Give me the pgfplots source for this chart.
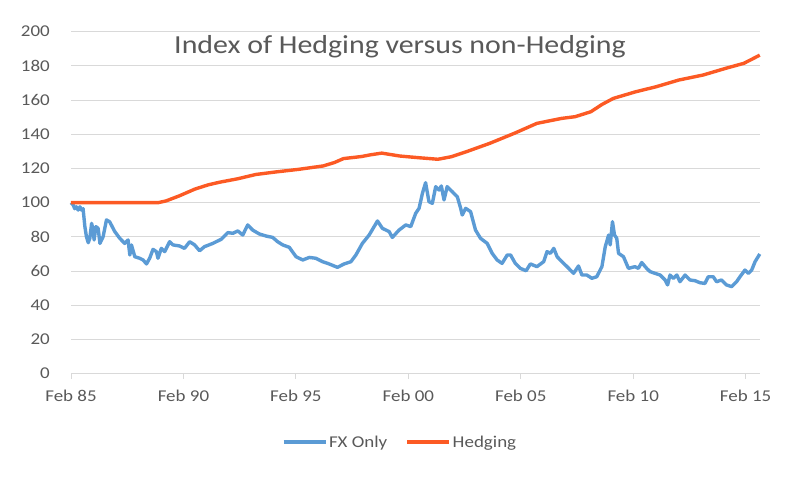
\documentclass[border=0pt]{standalone}
\usepackage{pgfplots}
\pgfplotsset{compat=1.18}
\usepackage{fontspec}
\setmainfont{Carlito}[FakeStretch=1.15]
\definecolor{fxblue}{RGB}{91,155,213}
\definecolor{hedgeorange}{RGB}{252,90,36}
\definecolor{txtgray}{RGB}{89,89,89}
\definecolor{gridgray}{RGB}{217,217,217}
\begin{document}
\begin{tikzpicture}
\useasboundingbox (0bp,0bp) rectangle (800bp,480bp);
\begin{axis}[
  at={(71bp,106.3bp)}, anchor=south west,
  scale only axis, width=689bp, height=342bp,
  xmin=1985.083, xmax=2015.72, ymin=0, ymax=200,
  axis line style={draw=none},
  ymajorgrids, grid style={gridgray, line width=0.8bp},
  ytick={0,20,...,200},
  xtick={1985.083,1990.083,1995.083,2000.083,2005.083,2010.083,2015.083},
  xticklabels={Feb 85,Feb 90,Feb 95,Feb 00,Feb 05,Feb 10,Feb 15},
  xtick pos=bottom, tick align=outside, major tick length=5bp,
  xtick style={gridgray, line width=0.8bp},
  ytick style={draw=none},
  /pgf/number format/assume math mode=true,
  tick label style={font=\fontsize{16.5bp}{20bp}\selectfont, text=txtgray},
  yticklabel style={anchor=east, inner sep=0pt, xshift=-16bp},
  xticklabel style={anchor=base, inner sep=0pt, yshift=-23bp},
  legend columns=2,
  legend style={at={(axis description cs:0.4775,-0.2)}, anchor=center, draw=none, fill=none,
    font=\fontsize{16.5bp}{20bp}\selectfont, text=txtgray,
    /tikz/every even column/.append style={column sep=16bp}},
  legend image code/.code={\draw[#1] (0bp,0bp) -- (42bp,0bp);},
  clip=false,
]
\addplot[fxblue, line width=3.4bp, line join=round] coordinates {
(1985.08,100) (1985.18,98.7) (1985.25,96.5) (1985.32,97.6) (1985.40,95.7) (1985.48,97.6)
(1985.55,95.7) (1985.62,96.5) (1985.70,86.0) (1985.77,80.1) (1985.85,76.6) (1985.92,79.2)
(1986.00,87.9) (1986.07,84.0) (1986.11,78.2) (1986.19,86.0) (1986.29,85.0) (1986.37,76.2)
(1986.51,80.1) (1986.66,89.9) (1986.80,88.9) (1987.03,83.1) (1987.25,79.2) (1987.47,76.2)
(1987.62,78.2) (1987.70,69.4) (1987.77,75.3) (1987.92,68.4) (1988.14,67.5) (1988.29,66.5)
(1988.44,64.2) (1988.58,67.5) (1988.73,72.7) (1988.88,71.4) (1988.95,67.5) (1989.10,73.3)
(1989.25,71.4) (1989.47,77.2) (1989.62,75.3) (1989.91,74.7) (1990.13,73.3) (1990.36,77.2)
(1990.58,75.3) (1990.80,71.9) (1991.02,74.3) (1991.39,76.2) (1991.76,78.6) (1992.06,82.5)
(1992.28,82.1) (1992.50,83.5) (1992.72,81.1) (1992.94,87.0) (1993.16,84.0) (1993.46,81.7)
(1993.76,80.5) (1994.05,79.7) (1994.27,77.2) (1994.50,75.3) (1994.79,73.9) (1995.09,68.4)
(1995.39,66.5) (1995.68,68.0) (1995.97,67.5) (1996.27,65.5) (1996.56,64.2) (1996.93,62.2)
(1997.23,64.2) (1997.53,65.5) (1997.75,69.4) (1998.04,76.2) (1998.34,81.1) (1998.71,89.3)
(1998.93,85.0) (1999.23,83.1) (1999.37,79.7) (1999.67,84.0) (1999.97,87.0) (2000.19,86.0)
(2000.41,93.8) (2000.56,96.7) (2000.71,105.5) (2000.85,111.7) (2001.00,100.6) (2001.15,99.6)
(2001.30,109.4) (2001.45,107.4) (2001.55,109.8) (2001.67,101.6) (2001.81,109.4) (2002.04,106.4)
(2002.26,103.5) (2002.41,96.7) (2002.48,92.8) (2002.63,96.7) (2002.85,94.8) (2003.07,84.0)
(2003.29,79.2) (2003.59,76.2) (2003.81,70.4) (2004.03,66.5) (2004.25,64.5) (2004.48,69.4)
(2004.63,69.4) (2004.84,64.5) (2005.06,61.6) (2005.32,60.2) (2005.51,64.2) (2005.80,62.6)
(2006.10,65.5) (2006.25,71.4) (2006.40,70.4) (2006.55,73.3) (2006.70,68.4) (2006.91,65.5)
(2007.14,62.6) (2007.43,58.7) (2007.65,63.0) (2007.80,57.7) (2008.02,57.7) (2008.24,55.8)
(2008.46,56.7) (2008.69,62.6) (2008.84,74.3) (2008.99,81.1) (2009.06,75.3) (2009.16,88.9)
(2009.25,81.1) (2009.35,79.2) (2009.43,70.4) (2009.65,68.4) (2009.87,61.6) (2010.16,62.6)
(2010.31,61.6) (2010.46,65.0) (2010.68,61.6) (2010.83,59.7) (2011.05,58.7) (2011.28,57.7)
(2011.50,54.8) (2011.61,51.9) (2011.72,57.7) (2011.87,55.8) (2012.02,57.7) (2012.16,53.8)
(2012.39,57.7) (2012.61,54.8) (2012.83,54.4) (2013.05,53.2) (2013.27,52.8) (2013.42,56.7)
(2013.64,56.7) (2013.79,53.8) (2014.01,54.8) (2014.23,51.9) (2014.46,50.9) (2014.68,53.8)
(2014.83,56.7) (2015.05,60.6) (2015.20,58.7) (2015.35,60.6) (2015.50,65.5) (2015.71,70.0)
};
\addlegendentry{FX Only}
\addplot[hedgeorange, line width=3.4bp, line join=round] coordinates {
(1985.08,100) (1988.95,100) (1989.3,101) (1989.9,104) (1990.6,108) (1991.2,110.5)
(1991.7,112) (1992.5,114) (1993.3,116.5) (1994.2,118) (1995.2,119.5) (1996.3,121.5)
(1996.8,123.5) (1997.2,125.8) (1998.0,127) (1998.4,128) (1998.9,129) (1999.7,127.3)
(2000.55,126.3) (2001.4,125.4) (2002.0,126.9) (2002.66,129.8) (2003.7,134.7) (2004.8,140.6)
(2005.8,146.4) (2006.9,149.3) (2007.5,150.3) (2008.2,153.2) (2008.7,157.5) (2009.2,161)
(2010.2,164.9) (2011.1,167.8) (2012.1,171.7) (2013.2,174.7) (2014.2,178.6) (2015.0,181.5)
(2015.3,183.5) (2015.71,186.3)
};
\addlegendentry{Hedging}
\end{axis}
\node[anchor=base, text=txtgray, font=\fontsize{26bp}{30bp}\selectfont, inner sep=0pt] at (400bp,426bp) {Index of Hedging versus non-Hedging};
\end{tikzpicture}
\end{document}
